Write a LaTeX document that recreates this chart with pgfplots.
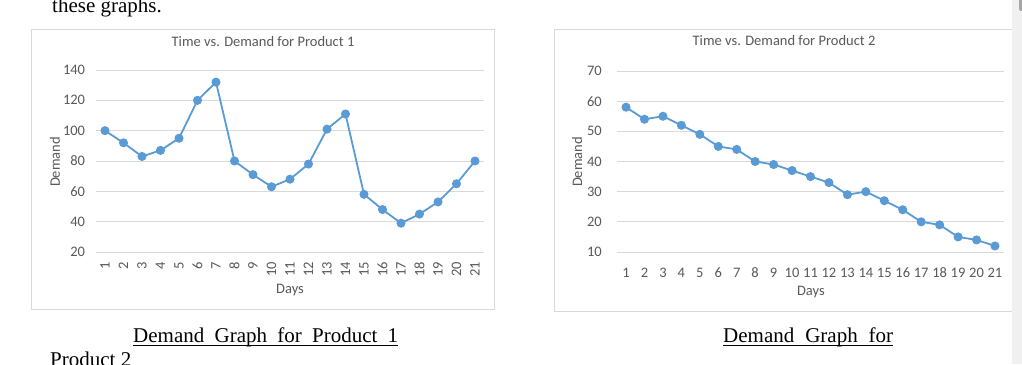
\documentclass[border=0pt]{standalone}
\usepackage{pgfplots}
\pgfplotsset{compat=1.18}
\usepackage{fontspec}
\setmainfont{Carlito}[Numbers={Lining}]
\newfontfamily\serif{Liberation Serif}
\definecolor{ser}{HTML}{5B9BD5}
\definecolor{txt}{HTML}{595959}
\definecolor{grd}{HTML}{D9D9D9}
\definecolor{frm}{HTML}{D9D9D9}
\definecolor{band}{HTML}{F0F0F0}

\pgfplotsset{
  excelchart/.style={
    scale only axis,
    anchor=south west,
    xmin=0.5, xmax=21.5,
    xtick={1,...,21},
    ymajorgrids,
    grid style={grd, line width=0.8pt},
    axis line style={draw=none},
    major tick length=0pt,
    tick label style={font=\fontsize{14.5}{15}\selectfont, text=txt},
    /pgf/number format/assume math mode=true,
    yticklabel style={anchor=east, inner sep=0pt},
    title style={anchor=center, font=\fontsize{14.5}{15}\selectfont, text=txt},
    xlabel style={anchor=center, font=\fontsize{14.5}{15}\selectfont, text=txt},
    ylabel style={anchor=center, font=\fontsize{14.5}{15}\selectfont, text=txt},
    clip=false,
  },
  excelline/.style={ser, line width=1.8pt, mark=*, mark size=4pt,
    mark options={solid, fill=ser, draw=ser, line width=1pt}},
}

\begin{document}
\begin{tikzpicture}[x=1pt,y=1pt]
\useasboundingbox (0,0) rectangle (1022,364);
\clip (0,0) rectangle (1022,364);
\fill[white] (0,0) rectangle (1022,364);

% surrounding document text
\node[anchor=base west, inner sep=0, font=\serif\fontsize{21}{25}\selectfont] at (52,351) {these graphs.};
\node[anchor=base west, inner sep=0, font=\serif\fontsize{21}{25}\selectfont] at (133,22) {\makebox[265pt][s]{Demand Graph for Product 1}};
\draw[line width=1.2pt] (133,18.5) -- (398,18.5);
\node[anchor=base west, inner sep=0, font=\serif\fontsize{21}{25}\selectfont] at (723,22) {\makebox[170pt][s]{Demand Graph for}};
\draw[line width=1.2pt] (723,18.5) -- (893,18.5);
\node[anchor=base west, inner sep=0, font=\serif\fontsize{21}{25}\selectfont] at (50,-2) {Product 2};

% chart frames
\draw[frm, line width=1pt] (31,334) rectangle (494,54);
\draw[frm, line width=1pt] (554,334) rectangle (1014,52);

% chart 1
\begin{axis}[excelchart,
  at={(95.75pt,112pt)}, width=388.5pt, height=182pt,
  ymin=20, ymax=140, ytick={20,40,...,140},
  yticklabel shift=10.5pt,
  xticklabel style={rotate=90, anchor=east, inner sep=0pt},
  xticklabel shift=10pt,
  title={Time vs. Demand for Product 1},
  title style={at={(0.4305,1.126)}},
  xlabel={Days}, xlabel style={at={(0.5,-0.209)}},
  ylabel={Demand}, ylabel style={at={(-0.105,0.4945)}},
]
\addplot[excelline] coordinates {
(1,100) (2,92) (3,83) (4,87) (5,95) (6,120) (7,132) (8,80) (9,71) (10,63)
(11,68) (12,78) (13,101) (14,111) (15,58) (16,48) (17,39) (18,45) (19,53)
(20,65) (21,80)};
\end{axis}

% chart 2
\begin{axis}[excelchart,
  at={(616.8pt,112pt)}, width=387.4pt, height=181pt,
  ymin=10, ymax=70, ytick={10,20,...,70},
  yticklabel shift=14.8pt,
  xticklabel style={anchor=base, inner sep=0pt},
  xticklabel shift=25.5pt,
  title={Time vs. Demand for Product 2},
  title style={at={(0.4316,1.1326)}},
  xlabel={Days}, xlabel style={at={(0.501,-0.221)}},
  ylabel={Demand}, ylabel style={at={(-0.1027,0.497)}},
]
\addplot[excelline] coordinates {
(1,58) (2,54) (3,55) (4,52) (5,49) (6,45) (7,44) (8,40) (9,39) (10,37)
(11,35) (12,33) (13,29) (14,30) (15,27) (16,24) (17,20) (18,19) (19,15)
(20,14) (21,12)};
\end{axis}

% right edge of the screenshot
\fill[band] (1012,0) rectangle (1022,364);
\fill[gray!70, rounded corners=1.5pt] (1019,353) rectangle (1024,368);
\end{tikzpicture}
\end{document}
